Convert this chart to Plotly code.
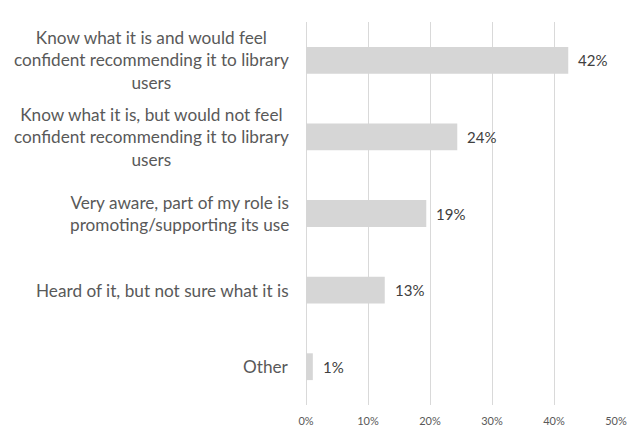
import plotly.graph_objects as go

categories = [
    "Know what it is and would feel<br>confident recommending it to library<br>users",
    "Know what it is, but would not feel<br>confident recommending it to library<br>users",
    "Very aware, part of my role is<br>promoting/supporting its use",
    "Heard of it, but not sure what it is",
    "Other",
]
values = [42.3, 24.4, 19.4, 12.7, 1.1]
value_labels = ["42%", "24%", "19%", "13%", "1%"]
tick_vals = [0, 10, 20, 30, 40, 50]
tick_text = ["0%", "10%", "20%", "30%", "40%", "50%"]

FONT = "Lato"
TXT = "#595959"

fig = go.Figure(go.Bar(
    x=values, y=categories, orientation="h",
    marker=dict(color="#d6d6d6", line=dict(width=0)),
    hoverinfo="x+y",
))

annotations = [
    dict(
        x=0, xref="paper", xanchor="right", xshift=-15,
        y=cat, yref="y", yanchor="middle",
        text=cat, align="center", showarrow=False,
        font=dict(family=FONT, size=17.2, color=TXT),
    )
    for cat in categories
]
annotations += [
    dict(
        x=v, xref="x", xanchor="left", xshift=8,
        y=cat, yref="y", yanchor="middle",
        text=lab, showarrow=False,
        font=dict(family=FONT, size=15, color="#404040"),
    )
    for v, cat, lab in zip(values, categories, value_labels)
]

# the page places the figure 8px from the top-left corner, so margins compensate
fig.update_layout(
    width=640, height=429,
    margin=dict(l=298, r=32, t=14, b=32, autoexpand=False),
    paper_bgcolor="white", plot_bgcolor="white",
    bargap=0.65,
    showlegend=False,
    annotations=annotations,
    xaxis=dict(
        range=[0, 50], tickvals=tick_vals, ticktext=tick_text,
        showgrid=True, gridcolor="#d9d9d9", gridwidth=1,
        zeroline=True, zerolinecolor="#d9d9d9", zerolinewidth=1,
        showline=False, automargin=False,
        tickfont=dict(family=FONT, size=11, color=TXT),
        ticks="", ticklabelstandoff=8,
    ),
    yaxis=dict(
        autorange="reversed", showticklabels=False, showgrid=False,
        zeroline=False, showline=False, ticks="", automargin=False,
    ),
)

fig.write_html("out.html")
